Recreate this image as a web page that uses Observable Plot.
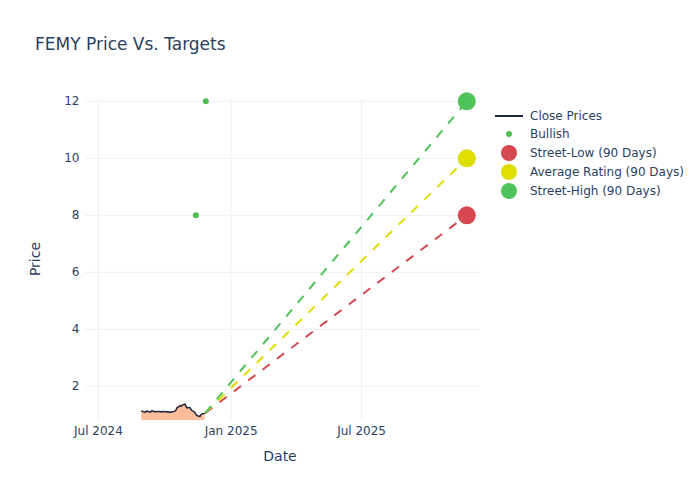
<!DOCTYPE html>
<html><head><meta charset="utf-8">
<script src="https://cdn.jsdelivr.net/npm/d3@7"></script>
<script src="https://cdn.jsdelivr.net/npm/@observablehq/plot@0.6"></script>
<style>
body{margin:0;background:#fff;font-family:"DejaVu Sans",sans-serif;}
#wrap{position:relative;width:700px;height:500px;overflow:hidden;}
#wrap svg{position:absolute;left:0;top:0;}
.t{position:absolute;color:#2a3f5f;white-space:nowrap;line-height:1;}
.leg{position:absolute;left:494px;font-size:12px;color:#2a3f5f;}
.row{position:absolute;left:0;height:18px;display:flex;align-items:center;white-space:nowrap;}
.row svg{position:static !important;margin-right:6px;}
</style></head><body><div id="wrap"></div>
<script>
const closeDates = [
 "2024-08-30","2024-09-03","2024-09-04","2024-09-05","2024-09-06",
 "2024-09-09","2024-09-10","2024-09-11","2024-09-12","2024-09-13",
 "2024-09-16","2024-09-17","2024-09-18","2024-09-19","2024-09-20",
 "2024-09-23","2024-09-24","2024-09-25","2024-09-26","2024-09-27",
 "2024-09-30","2024-10-01","2024-10-02","2024-10-03","2024-10-04",
 "2024-10-07","2024-10-08","2024-10-09","2024-10-10","2024-10-11",
 "2024-10-14","2024-10-15","2024-10-16","2024-10-17","2024-10-18",
 "2024-10-21","2024-10-22","2024-10-23","2024-10-24","2024-10-25",
 "2024-10-28","2024-10-29","2024-10-30","2024-10-31","2024-11-01",
 "2024-11-04","2024-11-05","2024-11-06","2024-11-07","2024-11-08",
 "2024-11-11","2024-11-12","2024-11-13","2024-11-14","2024-11-15",
 "2024-11-18","2024-11-19","2024-11-20","2024-11-21","2024-11-22",
 "2024-11-25","2024-11-26"];
const closePrices = [
 1.13,1.10,1.09,1.11,1.13,
 1.11,1.10,1.09,1.12,1.14,
 1.12,1.10,1.11,1.12,1.11,
 1.12,1.11,1.11,1.10,1.12,
 1.11,1.12,1.11,1.10,1.11,
 1.10,1.08,1.09,1.10,1.11,
 1.12,1.13,1.15,1.19,1.25,
 1.30,1.32,1.30,1.31,1.34,
 1.36,1.38,1.33,1.27,1.24,
 1.26,1.25,1.20,1.17,1.14,
 1.10,1.06,1.03,0.99,0.97,
 0.95,0.94,1.00,1.02,1.04,
 1.05,1.06];
const bullishDates = ["2024-11-13","2024-11-27"];
const bullishTargets = [8, 12];
const targetLabels = ["Street-Low (90 Days)","Average Rating (90 Days)","Street-High (90 Days)"];
const targetValues = [8, 10, 12];
const targetColors = ["#d5484f","#dede00","#4fc35a"];
const targetDate = "2025-11-24";
const xTickDates = ["2024-07-01","2025-01-01","2025-07-01"];
const xTickLabels = ["Jul 2024","Jan 2025","Jul 2025"];
const yTicks = [2, 4, 6, 8, 10, 12];

const P = d => new Date(d + "T00:00:00Z");
const closeData = closeDates.map((d, i) => ({date: P(d), price: closePrices[i]}));
const last = closeData[closeData.length - 1];
const bullish = bullishDates.map((d, i) => ({date: P(d), target: bullishTargets[i]}));
const targets = targetValues.map((v, i) => ({x1: last.date, y1: last.price, x2: P(targetDate), y2: v, color: targetColors[i]}));
const xTicks = xTickDates.map(P);

const chart = Plot.plot({
  width: 700, height: 500,
  marginLeft: 85, marginRight: 220, marginTop: 100, marginBottom: 80,
  x: {type: "utc", domain: [P("2024-06-13"), P("2025-12-13")]},
  y: {domain: [0.8, 12.03]},
  color: {type: "identity"},
  style: {fontFamily: "DejaVu Sans", fontSize: "12px", color: "#2a3f5f", background: "white", overflow: "visible"},
  marks: [
    Plot.gridY(yTicks, {stroke: "#ebf0f8", strokeOpacity: 1}),
    Plot.gridX(xTicks, {stroke: "#ebf0f8", strokeOpacity: 1}),
    Plot.axisY(yTicks, {tickSize: 0, tickPadding: 6, label: null}),
    Plot.axisX(xTicks, {tickSize: 0, tickPadding: 6, label: null,
      tickFormat: d => xTickLabels[xTicks.findIndex(t => +t === +d)]}),
    Plot.areaY(closeData, {x: "date", y: "price", fill: "#fbbd9b", clip: true}),
    Plot.line(closeData, {x: "date", y: "price", stroke: "#1f2640", strokeWidth: 1.5}),
    Plot.link(targets, {x1: "x1", y1: "y1", x2: "x2", y2: "y2", stroke: "color", strokeWidth: 2, strokeDasharray: "9,9"}),
    Plot.dot(bullish, {x: "date", y: "target", r: 3, fill: "#4cbf4f"}),
    Plot.dot(targets, {x: "x2", y: "y2", r: 9, fill: "color"})
  ]
});
const wrap = document.getElementById("wrap");
wrap.appendChild(chart);

function addText(txt, css) {
  const d = document.createElement("div");
  d.className = "t"; d.textContent = txt;
  Object.assign(d.style, css);
  wrap.appendChild(d);
  return d;
}
addText("FEMY Price Vs. Targets", {left: "35px", top: "36px", fontSize: "17px"});
addText("Date", {left: "280px", top: "449px", fontSize: "14px", transform: "translateX(-50%)"});
addText("Price", {left: "35px", top: "259px", fontSize: "14px", transform: "translate(-50%,-50%) rotate(-90deg)"});

// legend
const leg = document.createElement("div");
leg.className = "leg"; leg.style.top = "107px";
wrap.appendChild(leg);
const items = [
  {label: "Close Prices", sym: `<line x1="1" y1="9" x2="29" y2="9" stroke="#1f2640" stroke-width="2"/>`},
  {label: "Bullish", sym: `<circle cx="15" cy="9" r="3" fill="#4cbf4f"/>`},
  ...targetLabels.map((l, i) => ({label: l, sym: `<circle cx="15" cy="9" r="8" fill="${targetColors[i]}"/>`}))
];
const rowTops = [0, 18, 37, 56, 75];
items.forEach((it, i) => {
  const r = document.createElement("div");
  r.className = "row"; r.style.top = rowTops[i] + "px";
  r.innerHTML = `<svg width="30" height="18">${it.sym}</svg><span>${it.label}</span>`;
  leg.appendChild(r);
});
</script></body></html>
